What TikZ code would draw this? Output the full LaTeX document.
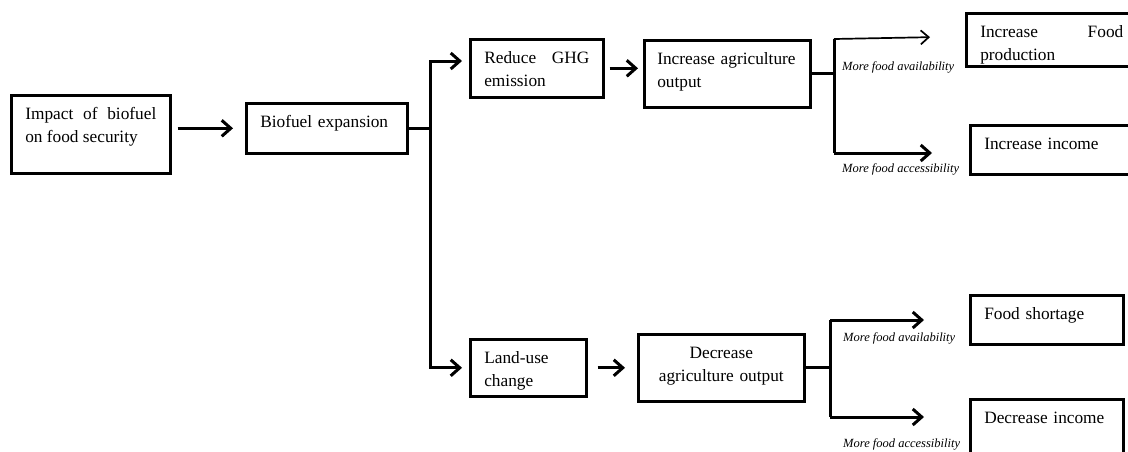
\documentclass[tikz,border=0pt]{standalone}
\usepackage{fontspec}
\setmainfont{Liberation Serif}
\usetikzlibrary{arrows.meta}
\hyphenpenalty=10000
\exhyphenpenalty=10000
\begin{document}
\begin{tikzpicture}[x=1pt,y=-1pt,
  box/.style={draw, line width=2.6pt, anchor=north west, inner xsep=14pt, inner ysep=0pt, text height=24pt, font=\fontsize{17.3}{23}\selectfont},
  conn/.style={line width=3pt},
  arr/.style={line width=3pt, -{Straight Barb[length=9pt,width=16pt]}},
  thinarr/.style={line width=1.7pt, -{Straight Barb[length=8pt,width=14pt]}},
  lab/.style={anchor=base west, inner sep=0pt, font=\fontsize{12.5}{15}\selectfont\itshape}]
\useasboundingbox (0,0) rectangle (1128,451);
\clip (0,0) rectangle (1128,451);
% boxes
\node[box, text width=131pt, text depth=54pt, align=justify] (impact) at (10,94) {Impact of biofuel on food security};
\node[box, text width=133pt, text depth=26pt, align=left] (bio) at (245,102) {Biofuel expansion};
\node[box, text width=105pt, text depth=34pt, align=justify] (reduce) at (469,38) {Reduce GHG emission};
\node[box, inner xsep=13pt, text width=140pt, text depth=43pt, align=left] (incag) at (643,39) {Increase agriculture output};
\node[box, text width=143pt, text depth=29pt, align=justify] (incfood) at (965,12) {Increase Food production};
\node[box, text width=143pt, text depth=25pt, align=left] (incinc) at (969,124) {Increase income};
\node[box, text width=88pt, text depth=33pt, align=left] (landuse) at (469,338) {Land-use change};
\node[box, text width=138pt, text depth=43pt, align=center] (decag) at (637,333) {Decrease\\agriculture output};
\node[box, text width=125pt, text depth=25pt, align=left] (shortage) at (969,294) {Food shortage};
\node[box, text width=125pt, text depth=40pt, align=left] (decinc) at (969,398) {Decrease income};
% labels
\node[lab] (l1) at (842,70) {More food availability};
\node[lab] (l2) at (842,172) {More food accessibility};
\node[lab] (l3) at (843,341) {More food availability};
\node[lab] (l4) at (843,447) {More food accessibility};
% junctions
\coordinate (x1) at (430,0);
\coordinate (x2) at (834,0);
\coordinate (x3) at (830,0);
\coordinate (j1) at (bio.east -| x1);
\coordinate (j1t) at (430,61);
\coordinate (j2) at (incag.east -| x2);
\coordinate (j2t) at (834,39);
\coordinate (j2b) at (834,153);
\coordinate (j3) at (decag.east -| x3);
\coordinate (j3t) at (830,320);
\coordinate (j3b) at (830,417);
% connectors
\draw[arr, shorten <=6pt, shorten >=12pt] (impact.east |- bio.west) -- (bio.west);
\draw[conn] (bio.east) -- (j1);
\draw[arr, shorten >=7pt] (j1) |- (reduce.west |- j1t);
\draw[arr, shorten >=7pt] (j1) |- (landuse.west);
\draw[arr, shorten <=5pt, shorten >=5pt] (reduce.east) -- (reduce.east -| incag.west);
\draw[conn] (incag.east) -- (j2);
\draw[conn] (j2t) -- (j2b);
\draw[thinarr, shorten >=35pt] (j2t) -- (incfood.west |- 0,36.5);
\draw[arr, shorten >=37pt] (j2b) -- (j2b -| incinc.west);
\draw[arr, shorten <=10pt, shorten >=12pt] (landuse.east) -- (decag.west);
\draw[conn] (decag.east) -- (j3);
\draw[conn] (j3t) -- (j3b);
\draw[arr, shorten >=45pt] (j3t) -- (j3t -| shortage.west);
\draw[arr, shorten >=45pt] (j3b) -- (j3b -| decinc.west);
\end{tikzpicture}
\end{document}
